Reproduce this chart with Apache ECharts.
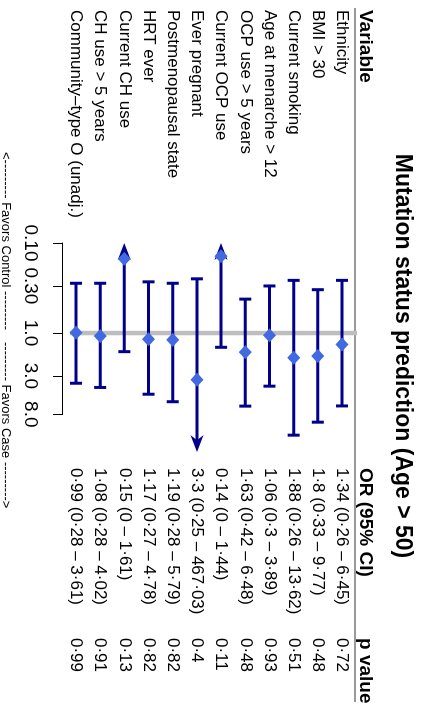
<!DOCTYPE html>
<html><head><meta charset="utf-8">
<script src="https://cdn.jsdelivr.net/npm/echarts@6/dist/echarts.min.js"></script>
<style>
html,body{margin:0;padding:0;overflow:hidden;background:#fff;width:423px;height:706px;}
#chart{position:absolute;left:0;top:0;width:706px;height:423px;transform-origin:0 0;transform:translate(423px,0) rotate(90deg);}
</style></head><body><div id="chart"></div>
<script>
const variables = ['Ethnicity','BMI > 30','Current smoking','Age at menarche > 12','OCP use > 5 years','Current OCP use','Ever pregnant','Postmenopausal state','HRT ever','Current CH use','CH use > 5 years','Community\u2013type O (unadj.)'];
const oddsRatios = [1.34, 1.8, 1.88, 1.06, 1.63, 0.14, 3.3, 1.19, 1.17, 0.15, 1.08, 0.99];
const ciLower = [0.26, 0.33, 0.26, 0.3, 0.42, 0, 0.25, 0.28, 0.27, 0, 0.28, 0.28];
const ciUpper = [6.45, 9.77, 13.62, 3.89, 6.48, 1.44, 467.03, 5.79, 4.78, 1.61, 4.02, 3.61];
const pValues = [0.72, 0.48, 0.51, 0.93, 0.48, 0.11, 0.4, 0.82, 0.82, 0.13, 0.91, 0.99];
const tickValues = [0.1, 0.3, 1, 3, 8];
const tickLabels = ['0.10', '0.30', '1.0', '3.0', '8.0'];
const clipRange = [0.1, 21];
const titleText = 'Mutation status prediction (Age > 50)';
const headers = ['Variable', 'OR (95% CI)', 'p value'];
const captionLeft = '<--------- Favors Control ---------';
const captionRight = '--------- Favors Case --------->';

const FONT = '"Liberation Sans", Arial, Helvetica, sans-serif';
const COL_X = [10, 468, 638];
const fmt = v => String(v).replace('.', '\u00B7');
const orText = i => fmt(oddsRatios[i]) + ' (' + fmt(ciLower[i]) + ' \u2013 ' + fmt(ciUpper[i]) + ')';
const rows = variables.map((v, i) => i);

const chart = echarts.init(document.getElementById('chart'), null, {renderer: 'canvas', width: 706, height: 423});

const DARK = '#00008B';
const option = {
  animation: false,
  backgroundColor: '#fff',
  grid: [
    {left: 243, width: 209.1, top: 68.9, height: 290.2, outerBoundsMode: 'none'},
    {left: 243, width: 171.3, top: 300, height: 60, outerBoundsMode: 'none'}
  ],
  xAxis: [
    {type: 'log', gridIndex: 0, min: clipRange[0], max: clipRange[1], show: false},
    {type: 'log', gridIndex: 1, min: 0.1, max: 8,
     axisLine: {show: true, lineStyle: {color: '#000', width: 1}},
     axisTick: {show: true, length: 10, customValues: tickValues, lineStyle: {color: '#000', width: 1}},
     axisLabel: {show: true, customValues: tickValues, margin: 23, color: '#000', fontSize: 19, fontFamily: FONT,
       formatter: v => { const k = tickValues.findIndex(t => Math.abs(t - v) / t < 1e-6); return k >= 0 ? tickLabels[k] : ''; }},
     splitLine: {show: false}, minorTick: {show: false}}
  ],
  yAxis: [
    {type: 'category', gridIndex: 0, data: variables, inverse: true, show: false},
    {type: 'value', gridIndex: 1, show: false}
  ],
  graphic: [
    {type: 'text', x: 356, y: 21, style: {text: titleText, font: 'bold 23px ' + FONT, fill: '#000', align: 'center', verticalAlign: 'middle'}},
    ...headers.map((h, k) => ({type: 'text', x: COL_X[k], y: 58, style: {text: h, font: 'bold 19px ' + FONT, fill: '#000', align: 'left', verticalAlign: 'middle'}})),
    {type: 'line', shape: {x1: 8, y1: 68, x2: 702, y2: 68}, style: {stroke: '#999', lineWidth: 2}},
    {type: 'text', x: 330, y: 417, style: {text: captionLeft, font: '13px ' + FONT, fill: '#000', align: 'right', verticalAlign: 'middle'}},
    {type: 'text', x: 342, y: 417, style: {text: captionRight, font: '13px ' + FONT, fill: '#000', align: 'left', verticalAlign: 'middle'}}
  ],
  series: [
    {
      type: 'custom', name: 'table', xAxisIndex: 0, yAxisIndex: 0, clip: false, silent: true,
      data: rows.map(i => [1, i]), encode: {x: 0, y: 1},
      renderItem: (params, api) => {
        const i = api.value(1);
        const y = api.coord([1, i])[1];
        const texts = [variables[i], orText(i), fmt(pValues[i])];
        return {type: 'group', children: texts.map((t, k) => ({
          type: 'text', style: {text: t, x: COL_X[k], y: y, font: '17px ' + FONT, fill: '#000', align: 'left', verticalAlign: 'middle'}
        }))};
      }
    },
    {
      type: 'custom', name: 'ref', xAxisIndex: 0, yAxisIndex: 0, clip: false, silent: true, z: 1,
      data: [[1, 0]], encode: {x: 0, y: 1},
      renderItem: (params, api) => {
        const x = api.coord([api.value(0), 0])[0];
        const cs = params.coordSys;
        return {type: 'line', shape: {x1: x, y1: cs.y - 3, x2: x, y2: cs.y + cs.height - 6}, style: {stroke: '#BEBEBE', lineWidth: 4.5}};
      }
    },
    {
      type: 'custom', name: 'ci', xAxisIndex: 0, yAxisIndex: 0, clip: false, silent: true, z: 2,
      data: rows.map(i => [oddsRatios[i], i, ciLower[i], ciUpper[i]]), encode: {x: 0, y: 1},
      renderItem: (params, api) => {
        const i = api.value(1);
        const lo = api.value(2), hi = api.value(3);
        const y = api.coord([1, i])[1];
        const loC = Math.max(lo, clipRange[0]), hiC = Math.min(hi, clipRange[1]);
        const xl = api.coord([loC, i])[0], xh = api.coord([hiC, i])[0];
        const st = {stroke: DARK, lineWidth: 3, fill: null};
        const L = 17, W = 6.5, N = 0.7;
        const lowArrow = lo < clipRange[0], highArrow = hi > clipRange[1];
        const children = [];
        const x1 = lowArrow ? xl + L * N : xl;
        const x2 = highArrow ? xh - L * N : xh;
        children.push({type: 'line', shape: {x1: x1, y1: y, x2: x2, y2: y}, style: st});
        if (lowArrow) {
          children.push({type: 'polygon', shape: {points: [[xl, y], [xl + L, y - W], [xl + L * N, y], [xl + L, y + W]]}, style: {fill: DARK}});
        } else {
          children.push({type: 'line', shape: {x1: xl, y1: y - 6, x2: xl, y2: y + 6}, style: st});
        }
        if (highArrow) {
          children.push({type: 'polygon', shape: {points: [[xh, y], [xh - L, y - W], [xh - L * N, y], [xh - L, y + W]]}, style: {fill: DARK}});
        } else {
          children.push({type: 'line', shape: {x1: xh, y1: y - 6, x2: xh, y2: y + 6}, style: st});
        }
        return {type: 'group', children: children};
      }
    },
    {
      type: 'scatter', name: 'OR', xAxisIndex: 0, yAxisIndex: 0, z: 3, silent: true,
      symbol: 'diamond', symbolSize: [14, 13],
      itemStyle: {color: '#4169E1', opacity: 1},
      data: rows.map(i => [oddsRatios[i], i])
    }
  ]
};
chart.setOption(option);
</script></body></html>
